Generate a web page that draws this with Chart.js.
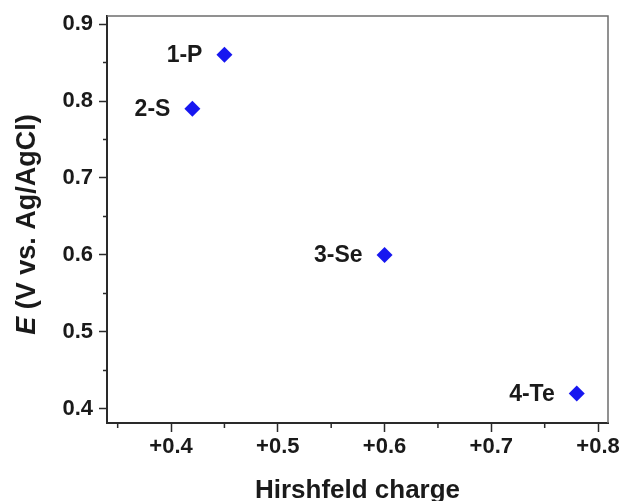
<!DOCTYPE html>
<html>
<head>
<meta charset="utf-8">
<script src="https://cdn.jsdelivr.net/npm/chart.js@4"></script>
<style>
  html, body { margin: 0; padding: 0; background: #fff; }
  #wrap { width: 622px; height: 501px; position: relative; }
</style>
</head>
<body>
<div id="wrap"><canvas id="c"></canvas></div>
<script>
// ── data ──
const POINT_LABELS = ['1-P', '2-S', '3-Se', '4-Te'];
const CHARGE       = [0.45, 0.42, 0.60, 0.78];   // Hirshfeld charge
const POTENTIAL    = [0.86, 0.79, 0.60, 0.42];   // E (V vs. Ag/AgCl)

const X_MAJOR = [0.4, 0.5, 0.6, 0.7, 0.8];
const X_MINOR = [0.35, 0.45, 0.55, 0.65, 0.75];
const Y_MAJOR = [0.4, 0.5, 0.6, 0.7, 0.8, 0.9];
const Y_MINOR = [0.45, 0.55, 0.65, 0.75, 0.85];

const FONT  = '"Liberation Sans", Arial, sans-serif';
const AXIS  = '#2a2a2a';
const BLUE  = '#1717f0';

// minor ticks, top/right frame, point labels, axis titles
const decor = {
  id: 'decor',
  afterDraw(chart) {
    const { ctx, chartArea: a, scales: { x, y } } = chart;
    ctx.save();

    // frame (top + right are lighter)
    ctx.strokeStyle = '#6e6e6e';
    ctx.lineWidth = 1.5;
    ctx.beginPath();
    ctx.moveTo(a.left, a.top);
    ctx.lineTo(a.right, a.top);
    ctx.lineTo(a.right, a.bottom);
    ctx.stroke();

    // minor ticks
    ctx.strokeStyle = AXIS;
    ctx.lineWidth = 1.5;
    ctx.beginPath();
    X_MINOR.forEach(v => {
      const px = x.getPixelForValue(v);
      ctx.moveTo(px, a.bottom);
      ctx.lineTo(px, a.bottom + 5);
    });
    Y_MINOR.forEach(v => {
      const py = y.getPixelForValue(v);
      ctx.moveTo(a.left, py);
      ctx.lineTo(a.left - 4, py);
    });
    ctx.stroke();

    // point labels
    const meta = chart.getDatasetMeta(0);
    ctx.fillStyle = '#1a1a1a';
    ctx.font = 'bold 23px ' + FONT;
    ctx.textAlign = 'right';
    ctx.textBaseline = 'middle';
    meta.data.forEach((pt, i) => {
      ctx.fillText(POINT_LABELS[i], pt.x - 22, pt.y + 1);
    });

    // x title
    ctx.textAlign = 'center';
    ctx.textBaseline = 'alphabetic';
    ctx.font = 'bold 26px ' + FONT;
    ctx.fillText('Hirshfeld charge', (a.left + a.right) / 2, 498);

    // y title, italic E
    const partE = 'E';
    const rest  = ' (V vs. Ag/AgCl)';
    ctx.translate(35, (a.top + a.bottom) / 2 + 5);
    ctx.rotate(-Math.PI / 2);
    ctx.font = 'italic bold 27px ' + FONT;
    const wE = ctx.measureText(partE).width;
    ctx.font = 'bold 27px ' + FONT;
    const wR = ctx.measureText(rest).width;
    const start = -(wE + wR) / 2;
    ctx.textAlign = 'left';
    ctx.font = 'italic bold 27px ' + FONT;
    ctx.fillText(partE, start, 0);
    ctx.font = 'bold 27px ' + FONT;
    ctx.fillText(rest, start + wE, 0);

    ctx.restore();
  }
};

new Chart(document.getElementById('c'), {
  type: 'scatter',
  data: {
    datasets: [{
      data: CHARGE.map((v, i) => ({ x: v, y: POTENTIAL[i] })),
      pointStyle: 'rectRot',
      pointRadius: 8,
      pointHoverRadius: 8,
      backgroundColor: BLUE,
      borderColor: BLUE,
      borderWidth: 0,
    }]
  },
  options: {
    responsive: true,
    maintainAspectRatio: false,
    animation: false,
    layout: { padding: { top: 16, right: 14, left: 0, bottom: 0 } },
    plugins: { legend: { display: false }, tooltip: { enabled: false } },
    scales: {
      x: {
        type: 'linear',
        min: 0.34, max: 0.8093,
        afterBuildTicks: s => { s.ticks = X_MAJOR.map(v => ({ value: v })); },
        afterFit: s => { s.height = 78; s.paddingLeft = 0; s.paddingRight = 0; },
        grid: { drawOnChartArea: false, drawTicks: true, tickLength: 9, tickColor: AXIS, tickWidth: 1.5 },
        border: { color: AXIS, width: 2 },
        ticks: {
          color: '#1a1a1a',
          padding: 2,
          maxRotation: 0,
          autoSkip: false,
          font: { family: FONT, size: 22, weight: 'bold' },
          callback: v => '+' + v.toFixed(1),
        },
      },
      y: {
        type: 'linear',
        min: 0.3818, max: 0.9104,
        afterBuildTicks: s => { s.ticks = Y_MAJOR.map(v => ({ value: v })); },
        afterFit: s => { s.width = 107; s.paddingTop = 0; s.paddingBottom = 0; },
        grid: { drawOnChartArea: false, drawTicks: true, tickLength: 8, tickColor: AXIS, tickWidth: 1.5 },
        border: { color: AXIS, width: 2 },
        ticks: {
          color: '#1a1a1a',
          padding: 6,
          autoSkip: false,
          font: { family: FONT, size: 22, weight: 'bold' },
          callback: v => v.toFixed(1),
        },
      },
    },
  },
  plugins: [decor],
});
</script>
</body>
</html>
